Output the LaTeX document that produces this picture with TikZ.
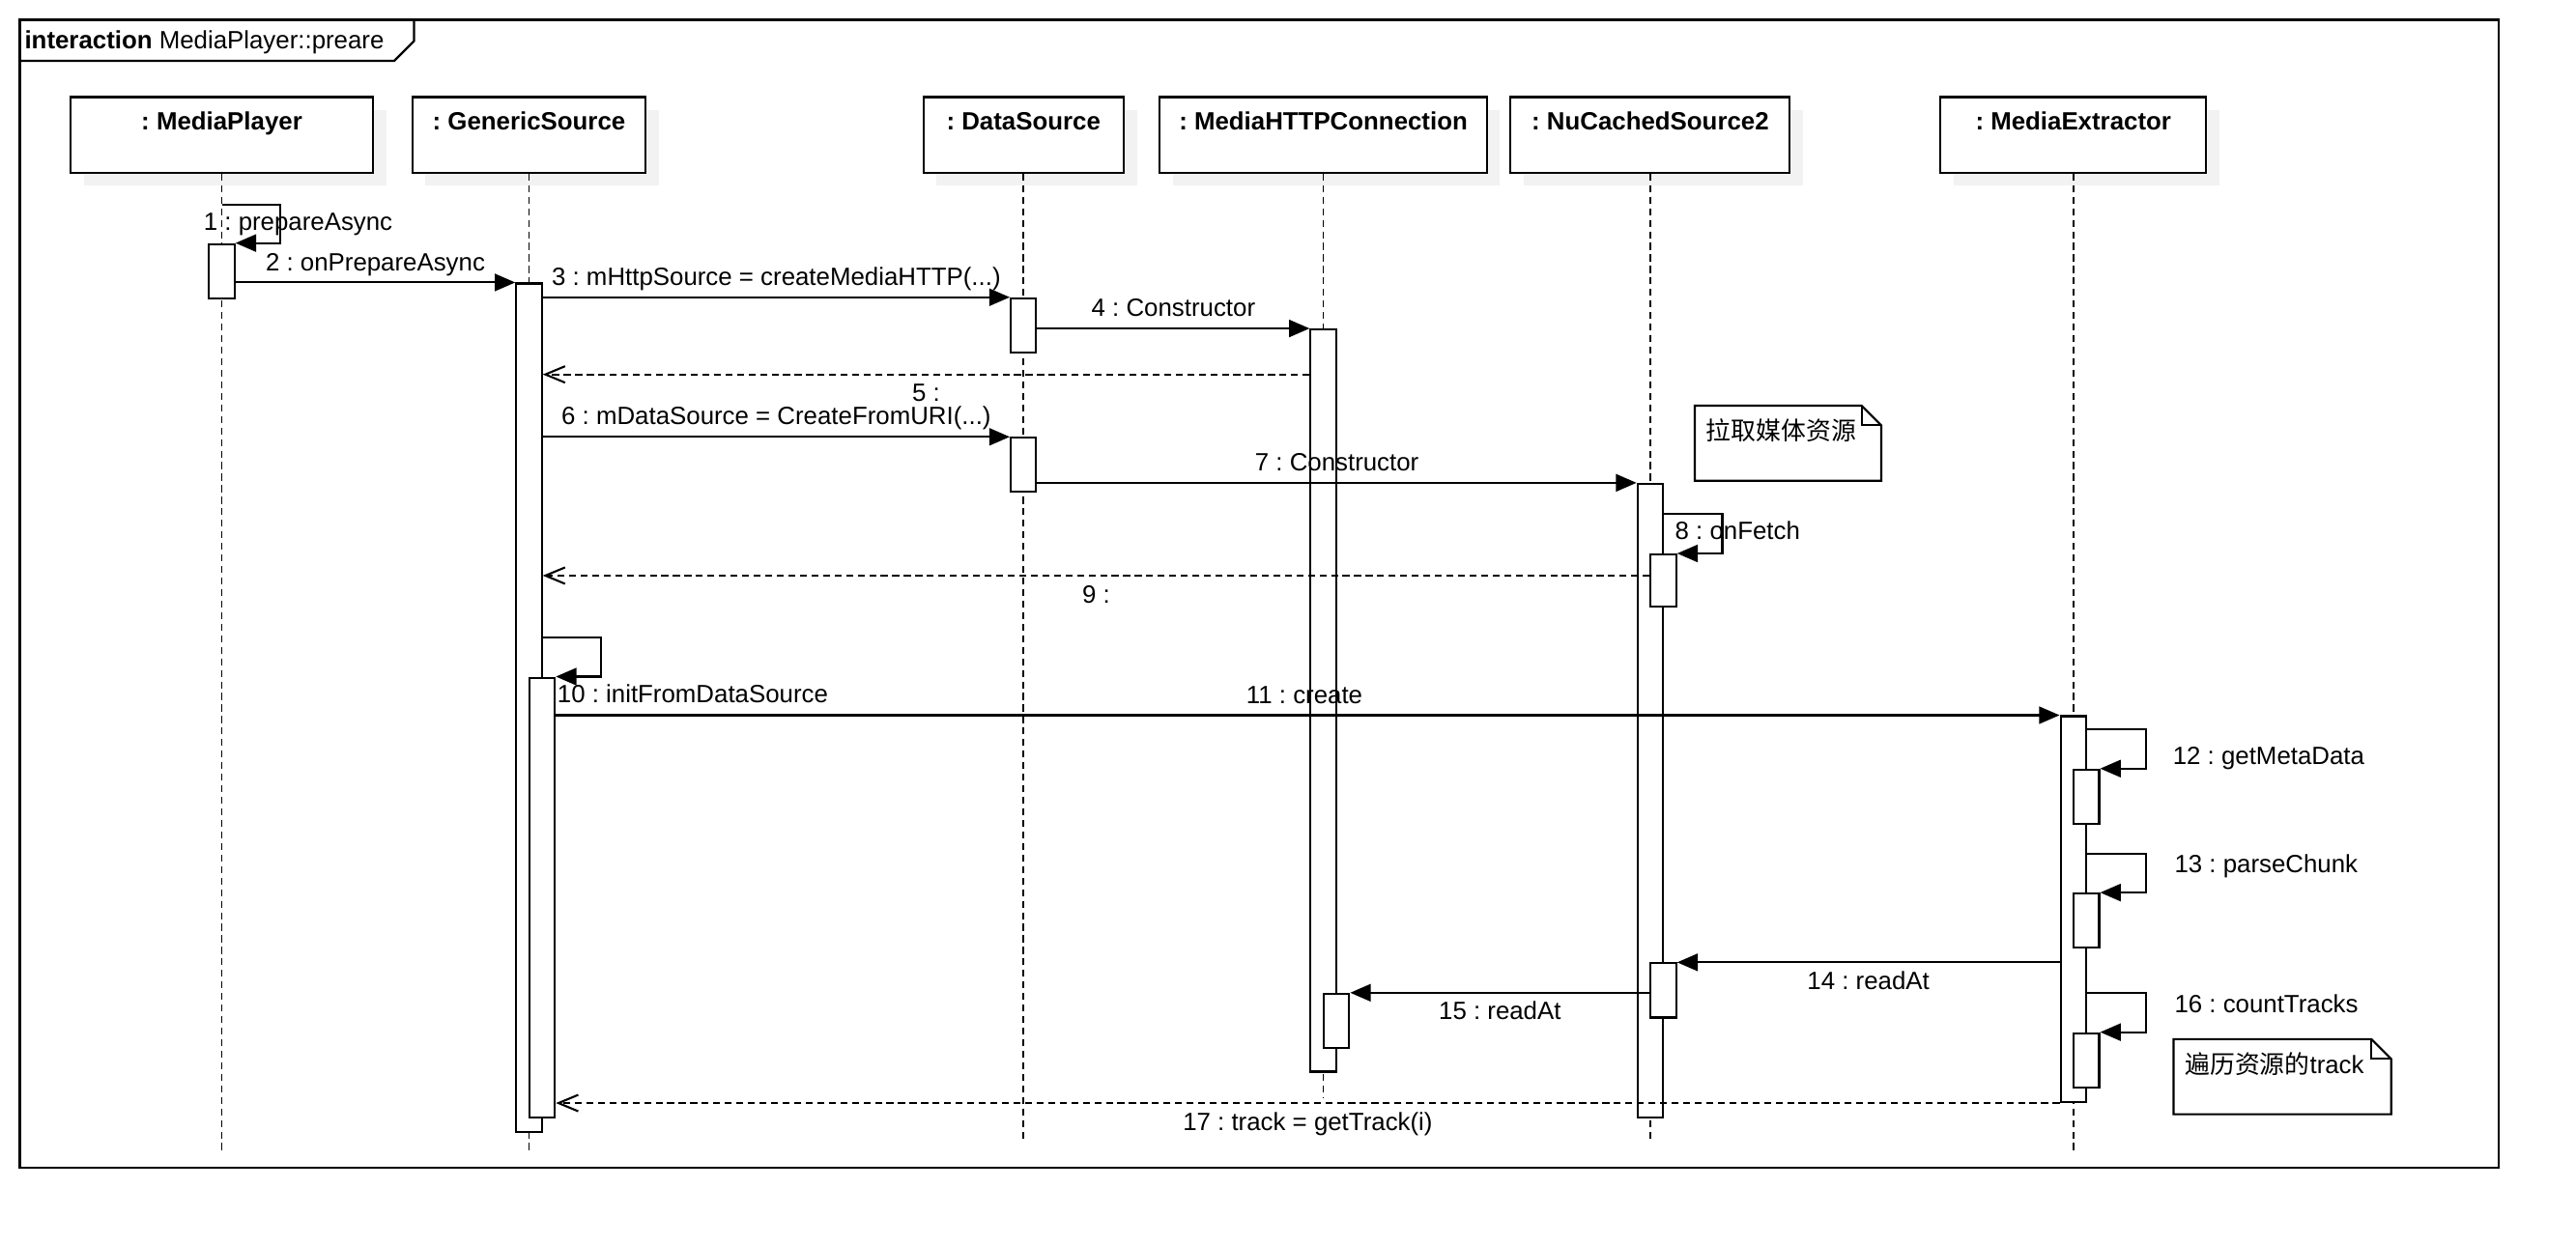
\documentclass[tikz,border=0pt]{standalone}
\usepackage{fontspec}
\setmainfont{Liberation Sans}
\newfontfamily\cjk{Noto Sans CJK SC}
\usetikzlibrary{arrows.meta, shadows}
\frenchspacing

\begin{document}
\begin{tikzpicture}[x=0.02cm, y=-0.02cm, line width=0.7pt,
  every node/.style={font=\fontsize{8.65}{10}\selectfont},
  head/.style={draw, fill=white, anchor=north, minimum height=0.92cm, inner ysep=0pt,
    text height=0.4cm, text depth=0.52cm, font=\fontsize{8.65}{10}\selectfont\bfseries,
    drop shadow={shadow xshift=0.16cm, shadow yshift=-0.16cm, fill=black!5, opacity=1}},
  lifeline/.style={dash pattern=on 2.4pt off 1.6pt, line width=0.6pt},
  act/.style={draw, fill=white, anchor=north, minimum width=0.31cm, inner sep=0pt},
  call/.style={-{Triangle[length=0.25cm, width=0.21cm]}},
  reply/.style={dash pattern=on 2.4pt off 1.6pt, -{Straight Barb[length=0.24cm, width=0.2cm]}},
  upper label/.style={anchor=base, inner sep=0pt, yshift=0.146cm},
  lower label/.style={anchor=base, inner sep=0pt, yshift=-0.33cm},
  loop label/.style={anchor=base west, inner sep=0pt},
  note/.style={anchor=north west, inner xsep=0.128cm, inner ysep=0pt, align=left,
    text height=0.41cm, text depth=0.48cm}]

  % Frame
  \fill[white] (0,0) rectangle (1568,758);
  \draw[line width=0.75pt] (12,12) rectangle (1521,711);
  \draw[line width=0.75pt] (12,37) -- (240,37) -- (252,25) -- (252,12);
  \node[anchor=base west, inner sep=0pt] (title) at (14.4,29.5) {\textbf{interaction} MediaPlayer::preare};

  % Lifelines
  \node[head, minimum width=3.68cm] (mp) at (135,58.5) {: MediaPlayer};
  \node[head, minimum width=2.84cm] (gs) at (322,58.5) {: GenericSource};
  \node[head, minimum width=2.44cm] (ds) at (623,58.5) {: DataSource};
  \node[head, minimum width=3.98cm] (mh) at (805.5,58.5) {: MediaHTTPConnection};
  \node[head, minimum width=3.4cm] (nc) at (1004.5,58.5) {: NuCachedSource2};
  \node[head, minimum width=3.24cm] (me) at (1262,58.5) {: MediaExtractor};
  \coordinate (mpend) at (135,702);
  \coordinate (gsend) at (322,702);
  \coordinate (dsend) at (623,694.5);
  \coordinate (mhend) at (805.5,669);
  \coordinate (ncend) at (1004.5,694.5);
  \coordinate (meend) at (1262,702);
  \draw[lifeline] (mp.south) -- (mpend);
  \draw[lifeline] (gs.south) -- (gsend);
  \draw[lifeline] (ds.south) -- (dsend);
  \draw[lifeline] (mh.south) -- (mhend);
  \draw[lifeline] (nc.south) -- (ncend);
  \draw[lifeline] (me.south) -- (meend);

  % Activations
  \node[act, minimum height=0.66cm] (mpa) at (135,148) {};
  \node[act, minimum height=10.34cm] (gs1) at (322,172) {};
  \node[act, minimum height=5.36cm] (gs2) at (330,412) {};
  \node[act, minimum height=0.66cm] (ds1) at (623,181) {};
  \node[act, minimum height=0.66cm] (ds2) at (623,266) {};
  \node[act, minimum height=9.04cm] (mh1) at (805.5,200) {};
  \node[act, minimum height=0.66cm] (mh2) at (813.5,604.5) {};
  \node[act, minimum height=7.72cm] (nc1) at (1004.5,294) {};
  \node[act, minimum height=0.64cm] (nc2) at (1012.5,337) {};
  \node[act, minimum height=0.66cm] (nc3) at (1012.5,586) {};
  \node[act, minimum height=4.7cm] (me1) at (1262,435.5) {};
  \node[act, minimum height=0.66cm] (me2) at (1270,468) {};
  \node[act, minimum height=0.66cm] (me3) at (1270,543.5) {};
  \node[act, minimum height=0.66cm] (me4) at (1270,628.5) {};

  % Messages
  \coordinate (m1) at (0,124.5);
  \coordinate (m5) at (0,228);
  \coordinate (m8) at (0,313);
  \coordinate (m9) at (0,350.5);
  \coordinate (m10) at (0,388);
  \coordinate (m12) at (0,444);
  \coordinate (m13) at (0,519.7);
  \coordinate (m16) at (0,604.5);
  \draw[call] (mp.south |- m1) -- ++(35.7,0) |- (mpa.north east);
  \node[loop label] (l1) at (123.4,140) {1 : prepareAsync};
  \draw[call] (mpa.east |- gs1.north) -- (gs1.north west)
    node[midway, upper label] (l2) {2 : onPrepareAsync};
  \draw[call] (gs1.east |- ds1.north) -- (ds1.north west)
    node[midway, upper label] (l3) {3 : mHttpSource = createMediaHTTP(...)};
  \draw[call] (ds1.east |- mh1.north) -- (mh1.north west)
    node[midway, upper label] (l4) {4 : Constructor};
  \draw[reply] (mh1.west |- m5) -- (gs1.east |- m5)
    node[midway, lower label] (l5) {5 :};
  \draw[call] (gs1.east |- ds2.north) -- (ds2.north west)
    node[midway, upper label] (l6) {6 : mDataSource = CreateFromURI(...)};
  \draw[call] (ds2.east |- nc1.north) -- (nc1.north west)
    node[midway, upper label] (l7) {7 : Constructor};
  \draw[call] (nc1.east |- m8) -- ++(35.5,0) |- (nc2.north east);
  \node[loop label] (l8) at (1019,328.3) {8 : onFetch};
  \draw[reply] (nc2.west |- m9) -- (gs1.east |- m9)
    node[midway, lower label] (l9) {9 :};
  \draw[call] (gs1.east |- m10) -- ++(35.5,0) |- (gs2.north east);
  \node[loop label] (l10) at (338.7,428) {10 : initFromDataSource};
  \draw[call] (gs2.east |- me1.north) -- (me1.north west)
    node[midway, upper label, xshift=-0.04cm] (l11) {11 : create};
  \draw[call] (me1.east |- m12) -- ++(35.7,0) |- (me2.north east);
  \node[loop label] (l12) at (1322,465.7) {12 : getMetaData};
  \draw[call] (me1.east |- m13) -- ++(35.7,0) |- (me3.north east);
  \node[loop label] (l13) at (1323,531.4) {13 : parseChunk};
  \draw[call] (me1.west |- nc3.north) -- (nc3.north east)
    node[midway, lower label] (l14) {14 : readAt};
  \draw[call] (nc3.west |- mh2.north) -- (mh2.north east)
    node[midway, lower label] (l15) {15 : readAt};
  \draw[call] (me1.east |- m16) -- ++(35.7,0) |- (me4.north east);
  \node[loop label] (l16) at (1323,616.7) {16 : countTracks};
  \draw[reply] (me1.south west) -- (gs2.east |- me1.south)
    node[midway, lower label] (l17) {17 : track = getTrack(i)};

  % Notes
  \node[note, text width=1.99cm] (note1) at (1031.6,247) {\cjk 拉取媒体资源};
  \draw (note1.north west) -- ([xshift=-0.24cm]note1.north east)
    -- ([yshift=-0.24cm]note1.north east) -- (note1.south east)
    -- (note1.south west) -- cycle;
  \draw ([xshift=-0.24cm]note1.north east) |- ([yshift=-0.24cm]note1.north east);
  \node[note, text width=2.37cm] (note2) at (1323,632.8) {{\cjk 遍历资源的}track};
  \draw (note2.north west) -- ([xshift=-0.24cm]note2.north east)
    -- ([yshift=-0.24cm]note2.north east) -- (note2.south east)
    -- (note2.south west) -- cycle;
  \draw ([xshift=-0.24cm]note2.north east) |- ([yshift=-0.24cm]note2.north east);
\end{tikzpicture}
\end{document}
